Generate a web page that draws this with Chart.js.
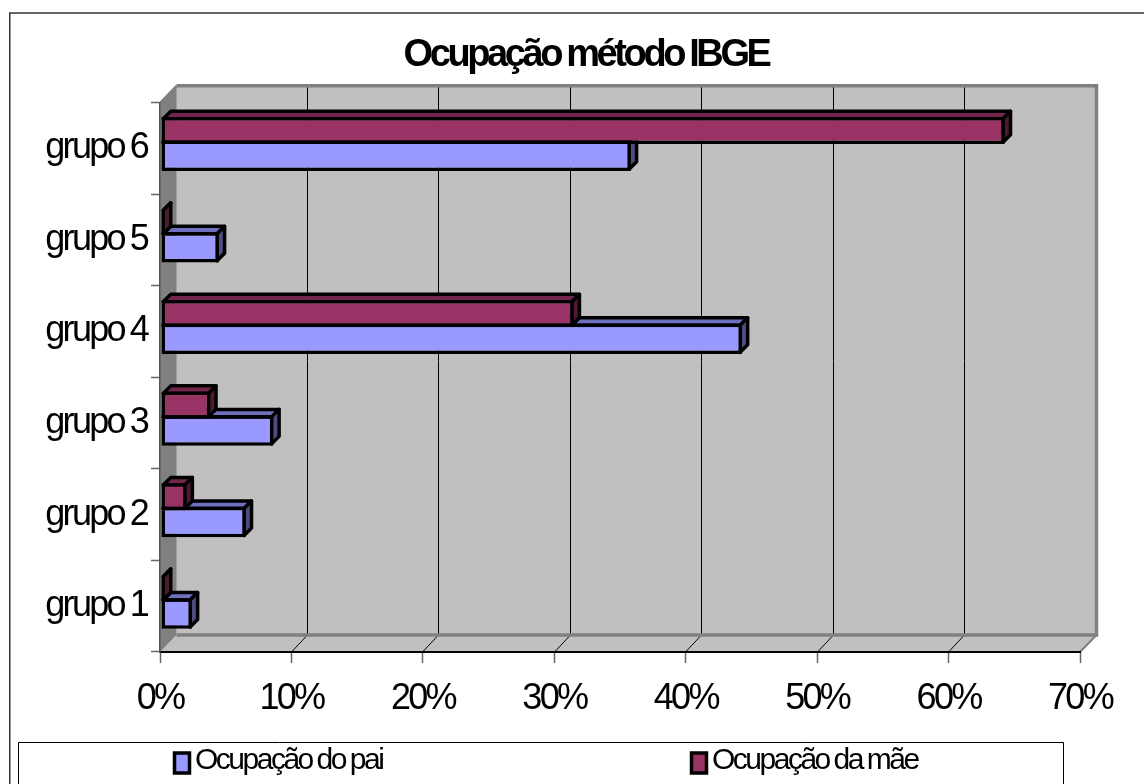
<!DOCTYPE html>
<html>
<head>
<meta charset="utf-8">
<style>
  html, body { margin: 0; padding: 0; background: #fff; overflow: hidden; }
  canvas { display: block; }
</style>
<script src="https://cdn.jsdelivr.net/npm/chart.js@4"></script>
</head>
<body>
<canvas id="grafico" width="1144" height="784"></canvas>
<script>
const grupos = ['grupo 1', 'grupo 2', 'grupo 3', 'grupo 4', 'grupo 5', 'grupo 6'];
const ocupacaoPai = [2.35, 6.45, 8.55, 44.2, 4.4, 35.75];
const ocupacaoMae = [0.05, 1.95, 3.75, 31.4, 0.05, 64.2];
const titulo = 'Ocupação método IBGE';

const corPai = ['#9999FF', '#6F6FBF', '#4D4D80'];
const corMae = ['#993366', '#73264D', '#4D1A33'];
const fundoX = 16.5;  // profundidade das paredes
const fundoY = 17;
const prof = 7.5;     // profundidade das barras
const borda = 3.5;
const espacoEixos = '-2.7px';
const espacoTitulo = '-3.4px';

function poly(ctx, pts, fill, stroke, lw) {
    ctx.beginPath();
    pts.forEach((p, i) => i ? ctx.lineTo(p[0], p[1]) : ctx.moveTo(p[0], p[1]));
    ctx.closePath();
    if (fill) { ctx.fillStyle = fill; ctx.fill(); }
    if (stroke) { ctx.strokeStyle = stroke; ctx.lineWidth = lw; ctx.lineJoin = 'round'; ctx.stroke(); }
}

const paredes = {
    id: 'paredes',
    afterLayout(chart) {
        // titulo centrado no grafico original, nao na area livre
        const bloco = chart.titleBlock;
        bloco.left = 28;
        bloco.right = 1144;
        if (!bloco._drawOriginal) {
            bloco._drawOriginal = bloco.draw;
            bloco.draw = function () {
                chart.ctx.letterSpacing = espacoTitulo;
                chart.ctx.wordSpacing = '-1px';
                bloco._drawOriginal();
                chart.ctx.letterSpacing = espacoEixos;
                chart.ctx.wordSpacing = '-1.5px';
            };
        }
    },
    beforeDraw(chart) {
        const ctx = chart.ctx;
        const a = chart.chartArea;
        const x = chart.scales.x;
        ctx.save();
        ctx.letterSpacing = '0px';
        ctx.fillStyle = '#fff';
        ctx.fillRect(0, 0, chart.width, chart.height);

        // moldura externa
        ctx.strokeStyle = '#333';
        ctx.lineWidth = 1.5;
        ctx.beginPath();
        ctx.moveTo(9.75, chart.height);
        ctx.lineTo(9.75, 13);
        ctx.lineTo(chart.width, 13);
        ctx.stroke();

        // parede do fundo, parede lateral e chao
        poly(ctx, [[a.left, a.top], [a.left + fundoX, a.top - fundoY], [a.right + fundoX, a.top - fundoY], [a.right + fundoX, a.bottom - fundoY], [a.left + fundoX, a.bottom - fundoY]], '#C0C0C0');
        poly(ctx, [[a.left, a.bottom], [a.left + fundoX, a.bottom - fundoY], [a.right + fundoX, a.bottom - fundoY], [a.right, a.bottom]], '#C0C0C0');
        poly(ctx, [[a.left, a.top], [a.left + fundoX, a.top - fundoY], [a.left + fundoX, a.bottom - fundoY], [a.left, a.bottom]], '#808080');

        // linhas de grade no fundo e no chao
        ctx.strokeStyle = '#000';
        ctx.lineWidth = 1;
        x.ticks.forEach(t => {
            if (t.value === 0 || t.value === 70) return;
            const px = Math.floor(x.getPixelForValue(t.value)) + 0.5;
            ctx.beginPath();
            ctx.moveTo(px, a.bottom);
            ctx.lineTo(px + 16, a.bottom - fundoY);
            ctx.lineTo(px + 16, a.top - fundoY);
            ctx.stroke();
        });

        ctx.strokeStyle = '#808080';
        ctx.lineWidth = 3.5;
        ctx.beginPath();
        ctx.moveTo(a.left + fundoX, a.bottom - fundoY);
        ctx.lineTo(a.right + fundoX, a.bottom - fundoY);
        ctx.lineTo(a.right + fundoX, a.top - fundoY);
        ctx.lineTo(a.left + fundoX, a.top - fundoY);
        ctx.stroke();
        ctx.lineWidth = 2;
        ctx.beginPath();
        ctx.moveTo(a.right, a.bottom);
        ctx.lineTo(a.right + fundoX, a.bottom - fundoY);
        ctx.moveTo(a.left, a.top);
        ctx.lineTo(a.left + fundoX, a.top - fundoY);
        ctx.stroke();
        ctx.restore();
        ctx.letterSpacing = espacoEixos;
        ctx.wordSpacing = '-1.5px';
    },
    beforeDatasetsDraw(chart) {
        const ctx = chart.ctx;
        ctx.save();
        ctx.translate(1, -4.5);
        // faces de cima e do lado, pai primeiro
        const meio = borda / 2;
        [0, 1].forEach(d => {
            const cor = d ? corMae : corPai;
            chart.getDatasetMeta(d).data.forEach(el => {
                const top = el.y - el.height / 2 + (d ? meio : -meio);
                const bot = el.y + el.height / 2 - meio;
                const xb = el.base + meio;
                const xe = Math.max(el.x - meio, xb);
                poly(ctx, [[xb, top], [xb + prof, top - prof], [xe + prof, top - prof], [xe, top]], cor[1], '#000', borda);
                poly(ctx, [[xe, top], [xe + prof, top - prof], [xe + prof, bot - prof], [xe, bot]], cor[2], '#000', borda);
            });
        });
    },
    afterDatasetsDraw(chart) {
        const ctx = chart.ctx;
        // linha superior da barra do pai, comum com a base da barra da mae
        ctx.fillStyle = '#000';
        chart.getDatasetMeta(0).data.forEach(el => {
            ctx.fillRect(el.base, el.y - el.height / 2 - borda, el.x - el.base, borda);
        });
        ctx.restore();
    },
    afterDraw(chart) {
        const ctx = chart.ctx;
        ctx.save();
        // legenda
        ctx.strokeStyle = '#000';
        ctx.lineWidth = 1;
        ctx.beginPath();
        ctx.moveTo(18.5, chart.height);
        ctx.lineTo(18.5, 742.5);
        ctx.lineTo(1063.5, 742.5);
        ctx.lineTo(1063.5, chart.height);
        ctx.stroke();
        ctx.font = '30px "Liberation Sans"';
        ctx.letterSpacing = '-2.5px';
        ctx.wordSpacing = '-1px';
        ctx.textAlign = 'left';
        ctx.textBaseline = 'alphabetic';
        chart.data.datasets.forEach((ds, i) => {
            const mx = i ? 690 : 173;
            ctx.fillStyle = ds.backgroundColor;
            ctx.strokeStyle = '#000';
            ctx.lineWidth = 3.5;
            ctx.fillRect(mx + 1.5, 753, 15, 20);
            ctx.strokeRect(mx + 1.5, 753, 15, 20);
            ctx.fillStyle = '#000';
            ctx.fillText(ds.label, mx + 22, 769);
        });
        ctx.restore();
    }
};

new Chart(document.getElementById('grafico'), {
    type: 'bar',
    data: {
        labels: grupos,
        datasets: [
            { label: 'Ocupação do pai', data: ocupacaoPai, order: 2, backgroundColor: corPai[0], borderColor: '#000', borderWidth: { top: 0, left: borda, right: borda, bottom: borda }, borderSkipped: false, clip: false },
            { label: 'Ocupação da mãe', data: ocupacaoMae, order: 1, backgroundColor: corMae[0], borderColor: '#000', borderWidth: borda, borderSkipped: false, clip: false }
        ]
    },
    plugins: [paredes],
    options: {
        indexAxis: 'y',
        responsive: false,
        animation: false,
        categoryPercentage: 0.59,
        barPercentage: 1,
        layout: { padding: { left: 0, right: 64, top: 0, bottom: 0 } },
        plugins: {
            legend: { display: false },
            tooltip: { enabled: false },
            title: {
                display: true,
                text: titulo,
                color: '#000',
                font: { family: '"Liberation Sans"', size: 38, weight: 'bold', lineHeight: 1.2 },
                padding: { top: 33, bottom: 24.1 }
            }
        },
        scales: {
            x: {
                min: 0,
                max: 70,
                afterFit(scale) { scale.height = 132; },
                border: { color: '#000', width: 2 },
                grid: { drawOnChartArea: false, color: '#666', tickLength: 11, tickWidth: 1.5 },
                ticks: {
                    stepSize: 10,
                    maxRotation: 0,
                    padding: 14,
                    color: '#000',
                    font: { family: '"Liberation Sans"', size: 36 },
                    callback: v => v + '%'
                }
            },
            y: {
                reverse: true,
                afterFit(scale) { scale.width = 160; },
                border: { color: '#555', width: 1.5 },
                grid: { offset: true, drawOnChartArea: false, color: '#666', tickLength: 9, tickWidth: 1.5 },
                ticks: {
                    padding: 4,
                    color: '#000',
                    font: { family: '"Liberation Sans"', size: 36 }
                }
            }
        }
    }
});
</script>
</body>
</html>
